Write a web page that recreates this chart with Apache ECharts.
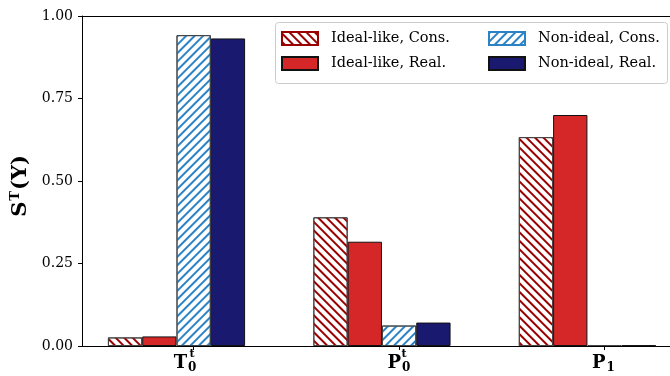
<!DOCTYPE html>
<html><head><meta charset="utf-8">
<script src="https://cdn.jsdelivr.net/npm/echarts@6/dist/echarts.min.js"></script>
<style>html,body{margin:0;padding:0;background:#fff}#c{width:670px;height:376px}</style>
</head><body><div id="c"></div>
<script>
// ---- data ----
const categoryMain = ['T', 'P', 'P'];
const categorySub = ['0', '0', '1'];
const categorySup = ['t', 't', ''];
const seriesNames = ['Ideal-like, Cons.', 'Ideal-like, Real.', 'Non-ideal, Cons.', 'Non-ideal, Real.'];
const idealCons = [0.026, 0.390, 0.633];
const idealReal = [0.029, 0.316, 0.700];
const nonIdealCons = [0.942, 0.062, 0.003];
const nonIdealReal = [0.932, 0.071, 0.002];
const yTicks = [0, 0.25, 0.5, 0.75, 1.0];

const SERIF = 'DejaVu Serif';
const X_MIN = -0.46, X_MAX = 2.402;
const tickOffset = 0.083; // ticks sit at centre of third bar
const tickPos = categoryMain.map((_, i) => i + tickOffset);
function idxOf(v) { return Math.round(v - tickOffset); }

function pts(arr) { return arr.map((v, i) => [i, v]); }

const chart = echarts.init(document.getElementById('c'), null, {renderer: 'canvas'});

const hatchRed = {
  symbol: 'rect', symbolSize: 1, color: '#9b0000',
  dashArrayX: [1, 0], dashArrayY: [2, 4], rotation: Math.PI / 4
};
const hatchBlue = {
  symbol: 'rect', symbolSize: 1, color: '#2b83c6',
  dashArrayX: [1, 0], dashArrayY: [2, 4], rotation: -Math.PI / 4
};

const barCommon = { type: 'bar', barWidth: 34.3, barGap: '0%', animation: false };

const mainRich = {
  b: { fontFamily: SERIF, fontWeight: 'bold', fontSize: 18, color: '#000' },
  s0: { fontFamily: SERIF, fontWeight: 'bold', fontSize: 12, color: '#000', padding: [10, 17, 0, 1] },
  s1: { fontFamily: SERIF, fontWeight: 'bold', fontSize: 12, color: '#000', padding: [10, 0, 0, 1] },
  s2: { fontFamily: SERIF, fontWeight: 'bold', fontSize: 12, color: '#000', padding: [10, 2, 0, 1] }
};
const supRich = {
  t0: { fontFamily: SERIF, fontWeight: 'bold', fontSize: 11, color: '#000', padding: [0, 3, 0, 0] },
  t1: { fontFamily: SERIF, fontWeight: 'bold', fontSize: 11, color: '#000', padding: [0, 0, 0, 10] }
};

const option = {
  animation: false,
  backgroundColor: '#fff',
  grid: { left: 82, top: 16, right: 0, bottom: 30, show: false },
  xAxis: [{
    type: 'value', min: X_MIN, max: X_MAX,
    axisLine: { show: true, onZero: false, lineStyle: { color: '#000', width: 1 } },
    splitLine: { show: false },
    axisTick: { show: true, length: 4, lineStyle: { color: '#000' }, customValues: tickPos },
    axisLabel: {
      customValues: tickPos, margin: 6,
      formatter: function (v) { const i = idxOf(v); return '{b|' + categoryMain[i] + '}{s' + i + '|' + categorySub[i] + '}'; },
      rich: mainRich
    }
  }, {
    type: 'value', min: X_MIN, max: X_MAX, gridIndex: 0, position: 'bottom',
    axisLine: { show: false, onZero: false }, splitLine: { show: false }, axisTick: { show: false },
    axisLabel: {
      customValues: tickPos.slice(0, 2), margin: 3,
      formatter: function (v) { const i = idxOf(v); return categorySup[i] ? '{t' + i + '|' + categorySup[i] + '}' : ''; },
      rich: supRich
    }
  }, {
    type: 'value', min: X_MIN, max: X_MAX, gridIndex: 0, position: 'top',
    axisLine: { show: true, onZero: false, lineStyle: { color: '#000', width: 1 } },
    splitLine: { show: false }, axisTick: { show: false }, axisLabel: { show: false }
  }],
  yAxis: {
    type: 'value', min: 0, max: 1, interval: 0.25,
    axisLine: { show: true, onZero: false, lineStyle: { color: '#000', width: 1 } },
    axisTick: { show: true, length: 4, lineStyle: { color: '#000' } },
    splitLine: { show: false },
    axisLabel: { margin: 9, fontFamily: SERIF, fontSize: 14, color: '#000',
      formatter: function (v) { return v.toFixed(2); } },
    name: '{b|S}{sup|T}{b|(Y)}',
    nameLocation: 'middle', nameGap: 48, nameRotate: 90,
    nameTextStyle: {
      padding: [0, 10, 0, 0],
      rich: {
        b: { fontFamily: SERIF, fontWeight: 'bold', fontSize: 21, color: '#000' },
        sup: { fontFamily: SERIF, fontWeight: 'bold', fontSize: 13, color: '#000', padding: [0, 1, 10, 1] }
      }
    }
  },
  graphic: [{
    type: 'rect', z: 3, silent: true,
    shape: { x: 275.5, y: 22.5, width: 392, height: 61, r: 3 },
    style: { fill: 'rgba(255,255,255,0.85)', stroke: '#cccccc', lineWidth: 1 }
  }],
  legend: [{
    z: 5, orient: 'vertical', left: 281, top: 31, padding: 0, icon: 'rect',
    itemWidth: 36, itemHeight: 13, itemGap: 10,
    data: [{ name: seriesNames[0], itemStyle: { borderColor: '#9b0000' } }, seriesNames[1]],
    textStyle: { fontFamily: SERIF, fontSize: 14.5, color: '#000', padding: [0, 0, 0, 8] }
  }, {
    z: 5, orient: 'vertical', left: 488, top: 31, padding: 0, icon: 'rect',
    itemWidth: 36, itemHeight: 13, itemGap: 10,
    data: [{ name: seriesNames[2], itemStyle: { borderColor: '#2b83c6' } }, seriesNames[3]],
    textStyle: { fontFamily: SERIF, fontSize: 14.5, color: '#000', padding: [0, 0, 0, 8] }
  }],
  series: [
    Object.assign({}, barCommon, { name: seriesNames[0], data: pts(idealCons),
      itemStyle: { color: '#ffffff', borderColor: '#444', borderWidth: 1, decal: hatchRed } }),
    Object.assign({}, barCommon, { name: seriesNames[1], data: pts(idealReal),
      itemStyle: { color: '#d62728', borderColor: '#111', borderWidth: 1 } }),
    Object.assign({}, barCommon, { name: seriesNames[2], data: pts(nonIdealCons),
      itemStyle: { color: '#ffffff', borderColor: '#444', borderWidth: 1, decal: hatchBlue } }),
    Object.assign({}, barCommon, { name: seriesNames[3], data: pts(nonIdealReal),
      itemStyle: { color: '#191970', borderColor: '#111', borderWidth: 1 } })
  ]
};
chart.setOption(option);
</script>
</body></html>
